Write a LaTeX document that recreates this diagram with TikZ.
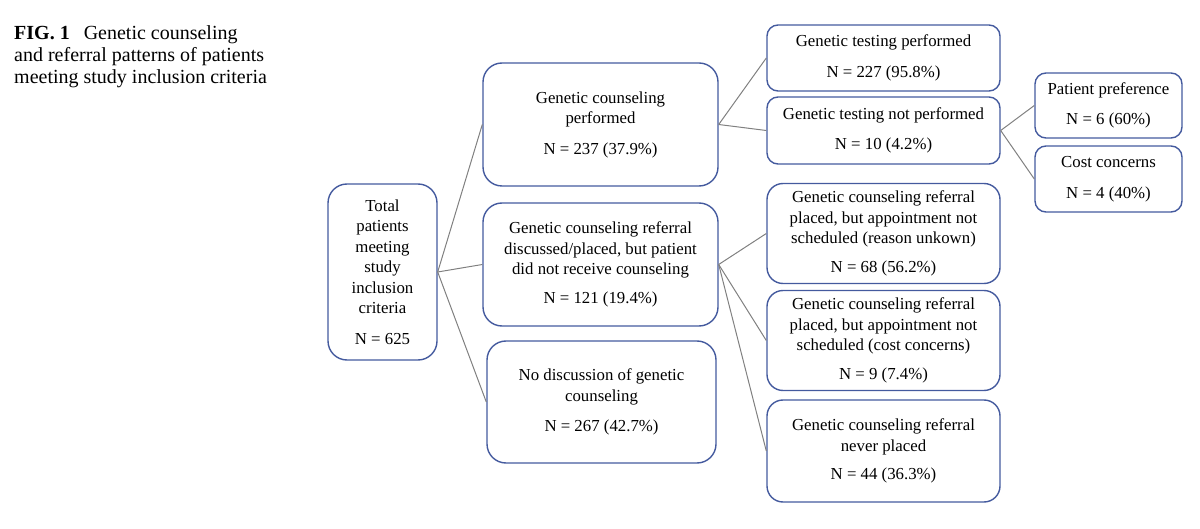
\documentclass[tikz,border=0pt]{standalone}
\usepackage{fontspec}
\setmainfont{Liberation Serif}
\usetikzlibrary{positioning}
\definecolor{boxblue}{RGB}{68,90,158}
\definecolor{linegray}{RGB}{128,128,128}

\begin{document}
\begin{tikzpicture}
    [
        x=1pt,y=-1pt,node distance=140pt,
        every node/.style={font=\fontsize{16.8}{20.5}\selectfont},
        box/.style={draw=boxblue, line width=1.4pt, rounded corners=11pt, align=center, inner sep=2pt},
        bbox/.style={box, rounded corners=19pt},
        mbox/.style={box, minimum width=233pt, minimum height=100pt, rounded corners=16pt}
    ]
    \tikzstyle{line} = [draw=linegray, line width=1pt]

    \useasboundingbox (0,0) rectangle (1200,529);

    \node[anchor=north west, inner sep=0pt, align=left, font=\fontsize{20}{22.3}\selectfont] (title) at (14,25)
        {\textbf{FIG. 1}\hspace{0.45em} Genetic counseling\\and referral patterns of patients\\meeting study inclusion criteria};

    \begin{scope}
        \node[bbox, minimum width=109pt, minimum height=176pt] (total) at (382.5,272)
            {Total\\patients\\meeting\\study\\inclusion\\criteria\\[10pt]N = 625};

        \node[bbox, minimum width=235pt, minimum height=123pt] (gcp) at (600.5,124.5)
            {Genetic counseling\\performed\\[10pt]N = 237 (37.9\%)};
        \node[bbox, minimum width=235pt, minimum height=123pt, below of=gcp] (refnot)
            {Genetic counseling referral\\discussed/placed, but patient\\did not receive counseling\\[8pt]N = 121 (19.4\%)};
        \node[bbox, minimum width=229pt, minimum height=122pt, below of=refnot, node distance=137.5pt, xshift=1pt] (nodisc)
            {No discussion of genetic\\counseling\\[10pt]N = 267 (42.7\%)};
        \path[line] (total.east) edge (gcp.west);
        \path[line] (total.east) edge (refnot.west);
        \path[line] (total.east) edge (nodisc.west);

        \node[box, minimum width=233pt, minimum height=66pt] (testp) at (883.5,58)
            {Genetic testing performed\\[10pt]N = 227 (95.8\%)};
        \node[box, minimum width=233pt, minimum height=67pt, below of=testp, node distance=72.5pt] (testn)
            {Genetic testing not performed\\[10pt]N = 10 (4.2\%)};
        \path[line] (gcp.east) edge (testp.west);
        \path[line] (gcp.east) edge (testn.west);

        \node[box, minimum width=147pt, minimum height=65pt] (pref) at (1108.5,105.5)
            {Patient preference\\[10pt]N = 6 (60\%)};
        \node[box, minimum width=147pt, minimum height=66pt, below of=pref, node distance=73.5pt] (cost)
            {Cost concerns\\[10pt]N = 4 (40\%)};
        \path[line] (testn.east) edge (pref.west);
        \path[line] (testn.east) edge (cost.west);

        \node[mbox] (unknown) at (883.5,233.5)
            {Genetic counseling referral\\placed, but appointment not\\scheduled (reason unkown)\\[8pt]N = 68 (56.2\%)};
        \node[mbox, below of=unknown, node distance=107pt] (costref)
            {Genetic counseling referral\\placed, but appointment not\\scheduled (cost concerns)\\[8pt]N = 9 (7.4\%)};
        \node[mbox, minimum height=102pt, below of=costref, node distance=110.5pt] (never)
            {Genetic counseling referral\\never placed\\[8pt]N = 44 (36.3\%)};
        \path[line] (refnot.east) edge (unknown.west);
        \path[line] (refnot.east) edge (costref.west);
        \path[line] (refnot.east) edge (never.west);
    \end{scope}

\end{tikzpicture}
\end{document}
